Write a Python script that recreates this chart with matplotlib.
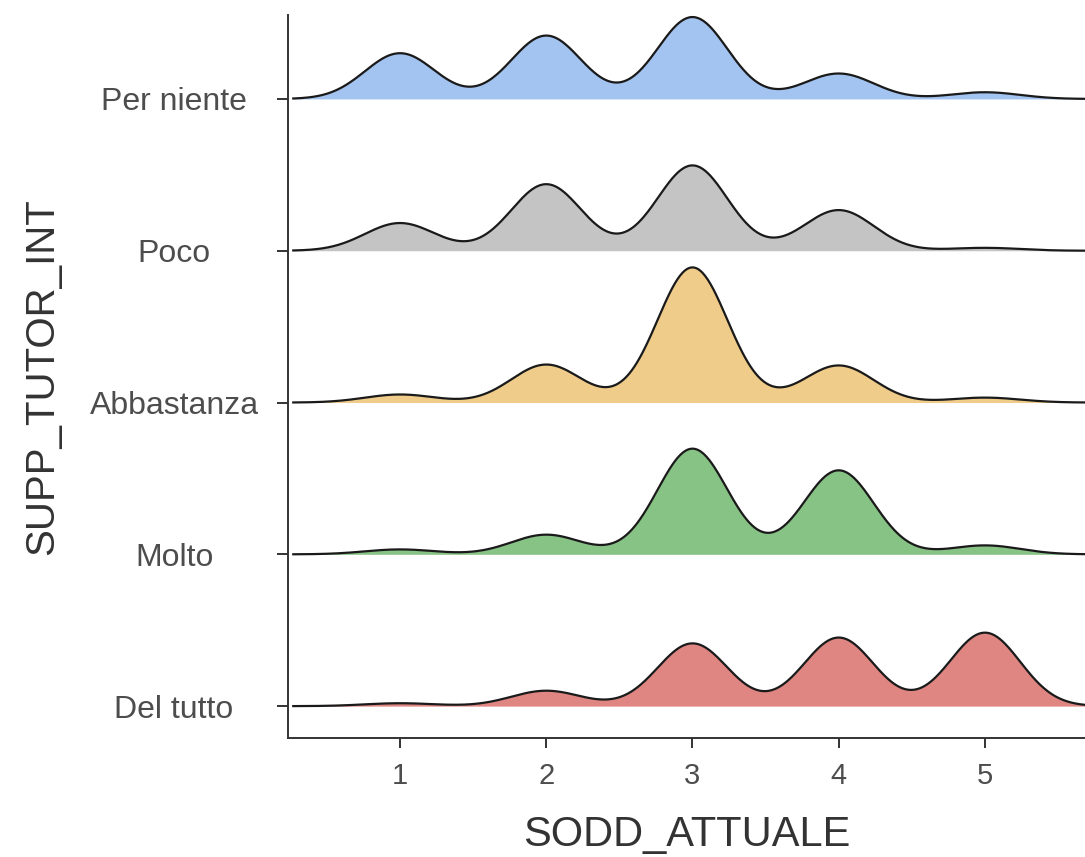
import matplotlib
matplotlib.use("Agg")
import matplotlib.pyplot as plt
import numpy as np

plt.rcParams['font.family'] = ['Liberation Sans', 'DejaVu Sans']

# Share of answers per SODD_ATTUALE level (1..5) within each group
levels = [1, 2, 3, 4, 5]
groups = ["Del tutto", "Molto", "Abbastanza", "Poco", "Per niente"]
share_del_tutto = [0.013, 0.069, 0.281, 0.307, 0.329]
share_molto = [0.022, 0.088, 0.473, 0.376, 0.040]
share_abbastanza = [0.036, 0.170, 0.605, 0.166, 0.022]
share_poco = [0.124, 0.298, 0.382, 0.182, 0.013]
share_per_niente = [0.205, 0.284, 0.367, 0.114, 0.030]
shares = [share_del_tutto, share_molto, share_abbastanza, share_poco, share_per_niente]
colors = ["#df8582", "#88c386", "#f0cc8a", "#c4c4c4", "#a3c3f0"]

bw = 0.24  # joint bandwidth
xs = np.linspace(0.27, 5.73, 600)


def kde(values, weights):
    values = np.asarray(values, dtype=float)
    weights = np.asarray(weights, dtype=float)
    weights = weights / weights.sum()
    d = (xs[:, None] - values[None, :]) / bw
    return (np.exp(-0.5 * d ** 2) * weights).sum(axis=1) / (bw * np.sqrt(2 * np.pi))


dens = [kde(levels, s) for s in shares]
scale = 0.89 / max(d.max() for d in dens)

fig = plt.figure(figsize=(10.85, 8.57), dpi=100)
ax = fig.add_axes([288 / 1085, 1 - 738 / 857, 1 - 288 / 1085, (738 - 15) / 857])

# draw top group first so lower ridges sit above
for i in reversed(range(len(groups))):
    top = i + dens[i] * scale
    ax.fill_between(xs, i, top, color=colors[i], lw=0, zorder=10 - i)
    ax.plot(xs, top, color="#1a1a1a", lw=1.6, zorder=10 - i + 0.5)

ax.set_xlim(0.234, 5.684)
ax.set_ylim(-0.21, 4.553)
ax.set_xticks(levels)
ax.set_yticks(range(len(groups)))
ax.set_yticklabels(groups)
for lab in ax.get_yticklabels():
    lab.set_ha("center")

for side in ["top", "right"]:
    ax.spines[side].set_visible(False)
for side in ["left", "bottom"]:
    ax.spines[side].set_color("#333333")
    ax.spines[side].set_linewidth(1.4)

ax.tick_params(axis="x", length=7, width=1.4, color="#333333", labelsize=21,
               labelcolor="#4d4d4d", pad=10)
ax.tick_params(axis="y", length=8, width=1.4, color="#333333", labelsize=23,
               labelcolor="#4d4d4d", pad=74)

ax.set_xlabel("SODD_ATTUALE", fontsize=30, color="#333333", labelpad=18)
ax.set_ylabel("SUPP_TUTOR_INT", fontsize=29, color="#333333")
ax.yaxis.set_label_coords(-0.284, 0.5)

fig.savefig("out.png", dpi=100)
